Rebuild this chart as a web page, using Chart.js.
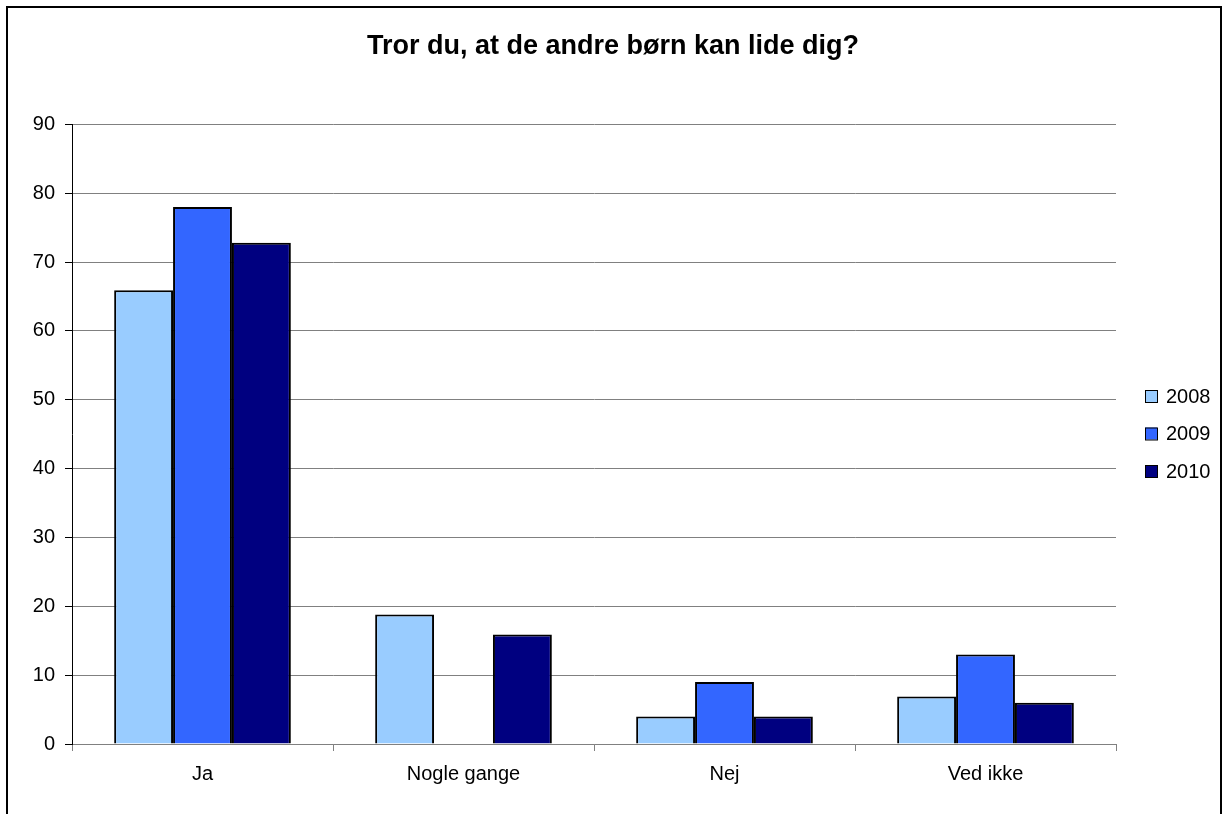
<!DOCTYPE html>
<html>
<head>
<meta charset="utf-8">
<script src="https://cdn.jsdelivr.net/npm/chart.js@4.4.1/dist/chart.umd.min.js"></script>
<style>
  html, body { margin: 0; padding: 0; background: #fff; }
  #wrap { width: 1226px; height: 814px; }
</style>
</head>
<body>
<div id="wrap"><canvas id="surveyChart" width="1226" height="814"></canvas></div>
<script>
const chartTitle = 'Tror du, at de andre børn kan lide dig?';
const categories = ['Ja', 'Nogle gange', 'Nej', 'Ved ikke'];
const years = ['2008', '2009', '2010'];
const values2008 = [65.9, 18.8, 4, 6.9];
const values2009 = [78, null, 9, 13];   // no bar for "Nogle gange" in 2009
const values2010 = [72.8, 15.9, 4, 6];
const yearColors = ['#99CCFF', '#3366FF', '#000080'];
const yMin = 0, yMax = 90, yStep = 10;

Chart.defaults.font.family = '"Liberation Sans", Arial, sans-serif';
Chart.defaults.color = '#000';

// outer frame of the chart object
const framePlugin = {
  id: 'frame',
  beforeDraw(chart) {
    const ctx = chart.ctx;
    ctx.save();
    ctx.fillStyle = '#fff';
    ctx.fillRect(0, 0, chart.width, chart.height);
    ctx.strokeStyle = '#000';
    ctx.lineWidth = 2;
    ctx.strokeRect(7, 7, 1214, 900);
    ctx.restore();
  }
};

// Excel style legend on the right, built from the datasets
const sideLegend = {
  id: 'sideLegend',
  afterDraw(chart) {
    const ctx = chart.ctx;
    ctx.save();
    ctx.font = '20px "Liberation Sans", Arial, sans-serif';
    ctx.textBaseline = 'middle';
    chart.data.datasets.forEach((ds, i) => {
      const y = 396 + i * 37.5;
      ctx.fillStyle = ds.backgroundColor;
      ctx.fillRect(1145, y - 6, 12, 12);
      ctx.strokeStyle = '#000';
      ctx.lineWidth = 1;
      ctx.strokeRect(1145.5, y - 5.5, 12, 12);
      ctx.fillStyle = '#000';
      ctx.fillText(ds.label, 1166, y + 1);
    });
    ctx.restore();
  }
};

const seriesValues = [values2008, values2009, values2010];

const ctx = document.getElementById('surveyChart').getContext('2d');
const surveyChart = new Chart(ctx, {
  type: 'bar',
  data: {
    labels: categories,
    datasets: years.map((yr, i) => ({
      label: yr,
      data: seriesValues[i],
      backgroundColor: yearColors[i],
      borderColor: '#000',
      borderWidth: 2,
      categoryPercentage: 0.677,
      barPercentage: 1
    }))
  },
  options: {
    responsive: false,
    animation: false,
    layout: { padding: 0 },
    plugins: {
      legend: { display: false },
      tooltip: { enabled: false },
      title: {
        display: true,
        text: chartTitle,
        color: '#000',
        font: { size: 27, weight: 'bold' },
        padding: { top: 30, bottom: 62 }
      }
    },
    scales: {
      x: {
        grid: { drawOnChartArea: false, tickLength: 7, tickColor: '#808080', offset: true },
        border: { color: '#808080', width: 1 },
        ticks: { font: { size: 20 }, padding: 11, color: '#000', maxRotation: 0 },
        afterFit: (scale) => { scale.width = scale.width; scale.height = 70; }
      },
      y: {
        min: yMin,
        max: yMax,
        grid: { color: '#808080', lineWidth: 1, tickLength: 7, tickColor: '#000' },
        border: { color: '#000', width: 1 },
        ticks: { stepSize: yStep, font: { size: 20 }, padding: 10, color: '#000' },
        afterFit: (scale) => { scale.width = 72; }
      },
      // empty axis on the right that keeps room for the legend
      legendSpace: {
        type: 'linear',
        position: 'right',
        grid: { display: false },
        border: { display: false },
        ticks: { display: false },
        afterFit: (scale) => { scale.width = 110; }
      }
    }
  },
  plugins: [framePlugin, sideLegend]
});
</script>
</body>
</html>
